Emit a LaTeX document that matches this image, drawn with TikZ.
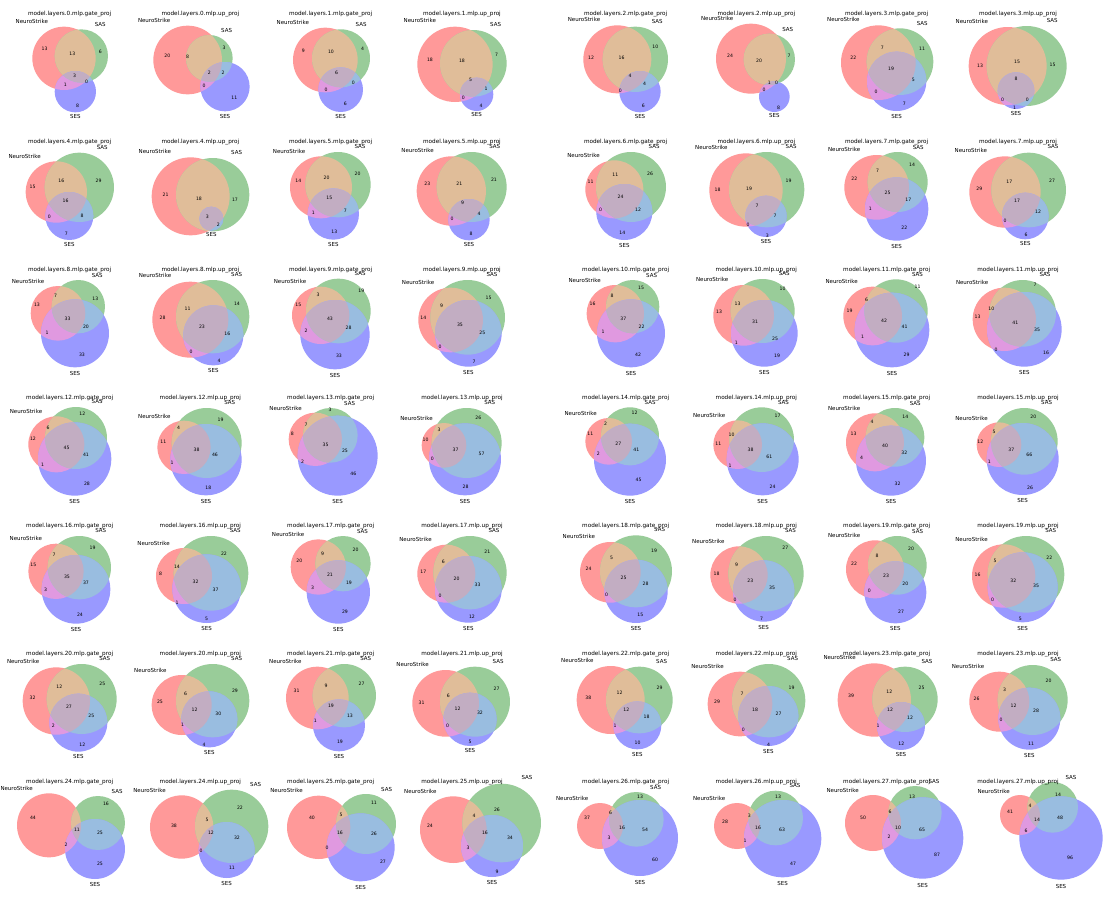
\documentclass[tikz,border=0pt]{standalone}
\usepackage{fontspec}
\setmainfont{DejaVu Sans}
\definecolor{cA}{HTML}{FF9999}
\definecolor{cB}{HTML}{99CC99}
\definecolor{cC}{HTML}{9999FF}
\definecolor{cAB}{HTML}{E0BD99}
\definecolor{cAC}{HTML}{E099E0}
\definecolor{cBC}{HTML}{99BDE0}
\definecolor{cABC}{HTML}{C2ADC2}
\newcounter{pnl}
\newcounter{lbl}
\tikzset{
  ttl/.style={font=\fontsize{5.7}{6}\selectfont, inner sep=0pt},
  setl/.style={font=\fontsize{5.5}{6}\selectfont, inner sep=0pt},
  num/.style={font=\fontsize{4.6}{5}\selectfont, inner sep=0pt},
  pan/.style={scale=1/3}
}
\newcommand\VC[9]{%
  \stepcounter{pnl}%
  \fill[cA] (#1,#2) circle (#3);
  \fill[cB] (#4,#5) circle (#6);
  \fill[cC] (#7,#8) circle (#9);
  \begin{scope}\clip (#1,#2) circle (#3);
    \fill[cAB] (#4,#5) circle (#6);
    \fill[cAC] (#7,#8) circle (#9);
  \end{scope}
  \begin{scope}\clip (#4,#5) circle (#6);
    \fill[cBC] (#7,#8) circle (#9);
  \end{scope}
  \begin{scope}\clip (#1,#2) circle (#3); \clip (#4,#5) circle (#6);
    \fill[cABC] (#7,#8) circle (#9);
  \end{scope}
  \node[setl,anchor=base east] (ns\thepnl) at ({#1-0.5*#3},{#2-1.1*#3}) {NeuroStrike};
  \node[setl,anchor=base west] (sas\thepnl) at ({#4+0.5*#6},{#5-1.1*#6}) {SAS};
  \node[setl,anchor=north] (ses\thepnl) at (#7,{#8+1.1*#9}) {SES};
}
\newcommand\TT[2]{\node[ttl] (t\thepnl) at (#1,41) {#2};}
\newcommand\NN[3]{\stepcounter{lbl}\node[num] (n\thelbl) at (#1,#2) {#3};}
\begin{document}
\begin{tikzpicture}[x=1pt,y=-1pt]
\fill[white] (0,0) rectangle (1112,900);
\useasboundingbox (0,0) rectangle (1112,900);
% ---------------- Row 1
\begin{scope}[shift={(0,0)},pan]
\VC{192}{175}{95}{244}{168}{80}{226}{275}{62}\TT{209}{model.layers.0.mlp.gate\_proj}
\NN{134}{147}{13}\NN{217}{162}{13}\NN{301}{155}{6}\NN{224}{226}{3}\NN{196}{255}{1}\NN{260}{245}{0}\NN{233}{316}{8}
\VC{563}{180}{103}{628}{175}{70}{675}{260}{74}\TT{601}{model.layers.0.mlp.up\_proj}
\NN{502}{168}{20}\NN{563}{170}{8}\NN{672}{143}{3}\NN{628}{218}{2}\NN{669}{218}{2}\NN{612}{258}{0}\NN{703}{293}{11}
\VC{976}{180}{97}{1023}{175}{87}{1022}{269}{67}\TT{992}{model.layers.1.mlp.gate\_proj}
\NN{910}{152}{9}\NN{993}{155}{10}\NN{1088}{145}{4}\NN{1010}{218}{6}\NN{978}{268}{0}\NN{1060}{248}{0}\NN{1036}{311}{6}
\VC{1365}{193}{113}{1420}{190}{100}{1430}{283}{50}\TT{1386}{model.layers.1.mlp.up\_proj}
\NN{1290}{180}{18}\NN{1386}{183}{18}\NN{1490}{163}{7}\NN{1412}{240}{5}\NN{1458}{266}{1}\NN{1390}{292}{0}\NN{1443}{318}{4}
\end{scope}
\begin{scope}[shift={(556,0)},pan]
\VC{184}{178}{102}{238}{178}{98}{252}{275}{62}\TT{209}{model.layers.2.mlp.gate\_proj}
\NN{105}{172}{12}\NN{197}{172}{16}\NN{298}{141}{10}\NN{222}{227}{4}\NN{266}{250}{4}\NN{193}{272}{0}\NN{262}{316}{6}
\VC{585}{176}{105}{640}{178}{77}{655}{290}{46}\TT{601}{model.layers.2.mlp.up\_proj}
\NN{522}{168}{24}\NN{609}{181}{20}\NN{699}{167}{7}\NN{640}{248}{1}\NN{662}{249}{0}\NN{624}{268}{0}\NN{668}{322}{8}
\VC{967}{188}{112}{1032}{185}{100}{1022}{244}{89}\TT{992}{model.layers.3.mlp.gate\_proj}
\NN{892}{172}{22}\NN{979}{143}{7}\NN{1098}{146}{11}\NN{1005}{207}{19}\NN{1072}{240}{5}\NN{960}{275}{0}\NN{1045}{312}{7}
\VC{1355}{198}{117}{1412}{198}{120}{1380}{272}{55}\TT{1386}{model.layers.3.mlp.up\_proj}
\NN{1272}{196}{13}\NN{1383}{186}{15}\NN{1490}{195}{15}\NN{1380}{235}{8}\NN{1340}{299}{0}\NN{1414}{300}{0}\NN{1376}{323}{1}
\end{scope}
% ---------------- Row 2
\begin{scope}[shift={(0,128)},pan]
\VC{169}{192}{92}{238}{178}{104}{208}{264}{72}\TT{209}{model.layers.4.mlp.gate\_proj}
\NN{98}{177}{15}\NN{184}{157}{16}\NN{296}{157}{29}\NN{197}{219}{16}\NN{148}{267}{0}\NN{246}{262}{8}\NN{199}{318}{7}
\VC{572}{205}{117}{638}{200}{110}{634}{272}{36}\TT{601}{model.layers.4.mlp.up\_proj}
\NN{497}{201}{21}\NN{597}{213}{18}\NN{705}{215}{17}\NN{622}{265}{3}\NN{655}{291}{2}
\VC{963}{178}{93}{1014}{170}{98}{1000}{258}{77}\TT{992}{model.layers.5.mlp.gate\_proj}
\NN{895}{158}{14}\NN{980}{149}{20}\NN{1073}{137}{20}\NN{988}{211}{15}\NN{940}{254}{1}\NN{1036}{248}{7}\NN{1003}{312}{13}
\VC{1354}{189}{104}{1415}{177}{105}{1407}{275}{62}\TT{1386}{model.layers.5.mlp.up\_proj}
\NN{1282}{168}{23}\NN{1378}{167}{21}\NN{1482}{155}{21}\NN{1388}{225}{9}\NN{1356}{271}{0}\NN{1437}{258}{4}\NN{1413}{318}{8}
\end{scope}
\begin{scope}[shift={(556,128)},pan]
\VC{175}{184}{87}{225}{177}{105}{205}{252}{84}\TT{209}{model.layers.6.mlp.gate\_proj}
\NN{104}{160}{11}\NN{178}{139}{11}\NN{282}{136}{26}\NN{194}{207}{24}\NN{134}{244}{0}\NN{246}{244}{12}\NN{199}{313}{14}
\VC{570}{186}{110}{632}{185}{113}{630}{265}{62}\TT{601}{model.layers.6.mlp.up\_proj}
\NN{485}{185}{18}\NN{579}{183}{19}\NN{698}{158}{19}\NN{603}{233}{7}\NN{576}{290}{0}\NN{657}{264}{7}\NN{634}{323}{3}
\VC{962}{178}{97}{1025}{162}{90}{1022}{243}{95}\TT{992}{model.layers.7.mlp.gate\_proj}
\NN{895}{153}{22}\NN{965}{129}{7}\NN{1068}{110}{14}\NN{995}{193}{25}\NN{943}{242}{1}\NN{1057}{214}{17}\NN{1045}{300}{22}
\VC{1347}{192}{107}{1418}{186}{112}{1408}{264}{70}\TT{1386}{model.layers.7.mlp.up\_proj}
\NN{1270}{181}{29}\NN{1360}{162}{17}\NN{1488}{157}{27}\NN{1383}{218}{17}\NN{1347}{279}{0}\NN{1446}{251}{12}\NN{1410}{320}{6}
\end{scope}
% ---------------- Row 3
\begin{scope}[shift={(0,256)},pan]
\VC{174}{172}{82}{235}{152}{80}{225}{232}{102}\TT{209}{model.layers.8.mlp.gate\_proj}
\NN{111}{147}{13}\NN{167}{120}{7}\NN{286}{128}{13}\NN{203}{187}{33}\NN{141}{229}{1}\NN{258}{213}{20}\NN{246}{296}{33}
\VC{571}{191}{114}{638}{182}{110}{640}{238}{90}\TT{601}{model.layers.8.mlp.up\_proj}
\NN{488}{185}{28}\NN{563}{158}{11}\NN{711}{143}{14}\NN{606}{211}{23}\NN{573}{288}{0}\NN{682}{234}{16}\NN{657}{315}{4}
\VC{962}{178}{86}{1015}{165}{97}{1005}{236}{104}\TT{992}{model.layers.9.mlp.gate\_proj}
\NN{895}{147}{15}\NN{954}{116}{3}\NN{1084}{104}{19}\NN{990}{187}{43}\NN{918}{223}{2}\NN{1046}{214}{28}\NN{1017}{298}{33}
\VC{1352}{192}{97}{1403}{184}{112}{1405}{232}{100}\TT{1386}{model.layers.9.mlp.up\_proj}
\NN{1270}{185}{14}\NN{1325}{150}{9}\NN{1466}{125}{15}\NN{1380}{205}{35}\NN{1320}{273}{0}\NN{1447}{229}{25}\NN{1422}{318}{7}
\end{scope}
\begin{scope}[shift={(556,256)},pan]
\VC{178}{173}{86}{230}{152}{80}{225}{232}{102}\TT{209}{model.layers.10.mlp.gate\_proj}
\NN{110}{143}{16}\NN{168}{118}{8}\NN{255}{97}{15}\NN{202}{187}{37}\NN{141}{228}{1}\NN{257}{213}{22}\NN{246}{296}{42}
\VC{563}{178}{91}{620}{165}{96}{625}{232}{100}\TT{601}{model.layers.10.mlp.up\_proj}
\NN{489}{168}{13}\NN{545}{143}{13}\NN{680}{97}{10}\NN{597}{198}{31}\NN{541}{261}{1}\NN{657}{249}{25}\NN{663}{298}{19}
\VC{950}{180}{88}{1020}{165}{95}{1008}{222}{112}\TT{992}{model.layers.11.mlp.gate\_proj}
\NN{881}{165}{19}\NN{932}{132}{6}\NN{1085}{92}{11}\NN{984}{193}{42}\NN{920}{241}{1}\NN{1046}{212}{41}\NN{1052}{295}{29}
\VC{1345}{190}{95}{1400}{172}{100}{1405}{220}{112}\TT{1386}{model.layers.11.mlp.up\_proj}
\NN{1265}{183}{13}\NN{1306}{158}{10}\NN{1437}{87}{7}\NN{1378}{200}{41}\NN{1320}{280}{0}\NN{1443}{221}{35}\NN{1470}{290}{16}
\end{scope}
% ---------------- Row 4
\begin{scope}[shift={(0,384)},pan]
\VC{169}{181}{84}{228}{162}{93}{224}{225}{110}\TT{209}{model.layers.12.mlp.gate\_proj}
\NN{99}{165}{12}\NN{144}{131}{6}\NN{247}{90}{12}\NN{200}{193}{45}\NN{128}{241}{1}\NN{258}{213}{41}\NN{261}{298}{28}
\VC{552}{190}{80}{620}{177}{105}{618}{227}{107}\TT{601}{model.layers.12.mlp.up\_proj}
\NN{490}{172}{11}\NN{536}{131}{4}\NN{662}{107}{19}\NN{590}{196}{38}\NN{516}{236}{1}\NN{645}{213}{46}\NN{625}{311}{18}
\VC{946}{166}{80}{991}{154}{82}{1013}{215}{120}\TT{992}{model.layers.13.mlp.gate\_proj}
\NN{877}{148}{8}\NN{918}{122}{7}\NN{990}{77}{3}\NN{977}{183}{35}\NN{908}{232}{2}\NN{1035}{199}{25}\NN{1060}{268}{46}
\VC{1332}{184}{67}{1400}{177}{105}{1395}{226}{108}\TT{1386}{model.layers.13.mlp.up\_proj}
\NN{1277}{168}{10}\NN{1317}{136}{3}\NN{1435}{102}{26}\NN{1367}{196}{37}\NN{1297}{224}{0}\NN{1445}{209}{57}\NN{1397}{308}{28}
\end{scope}
\begin{scope}[shift={(556,384)},pan]
\VC{158}{172}{70}{222}{157}{87}{222}{227}{108}\TT{209}{model.layers.14.mlp.gate\_proj}
\NN{103}{148}{11}\NN{149}{120}{2}\NN{236}{87}{12}\NN{187}{180}{27}\NN{127}{210}{2}\NN{241}{197}{41}\NN{248}{289}{45}
\VC{545}{182}{73}{617}{167}{97}{620}{226}{108}\TT{601}{model.layers.14.mlp.up\_proj}
\NN{487}{178}{11}\NN{527}{151}{10}\NN{665}{94}{17}\NN{584}{198}{38}\NN{522}{246}{1}\NN{640}{217}{61}\NN{650}{308}{24}
\VC{957}{175}{87}{1017}{160}{88}{1005}{230}{105}\TT{992}{model.layers.15.mlp.gate\_proj}
\NN{893}{148}{13}\NN{948}{114}{4}\NN{1048}{99}{14}\NN{987}{186}{40}\NN{917}{222}{4}\NN{1045}{207}{32}\NN{1025}{298}{32}
\VC{1329}{182}{67}{1405}{172}{100}{1400}{225}{108}\TT{1386}{model.layers.15.mlp.up\_proj}
\NN{1273}{173}{12}\NN{1314}{143}{5}\NN{1432}{97}{20}\NN{1366}{196}{37}\NN{1300}{234}{1}\NN{1420}{211}{66}\NN{1422}{310}{26}
\end{scope}
% ---------------- Row 5
\begin{scope}[shift={(0,512)},pan]
\VC{168}{178}{83}{238}{167}{95}{228}{232}{103}\TT{209}{model.layers.16.mlp.gate\_proj}
\NN{100}{158}{15}\NN{162}{127}{7}\NN{278}{106}{19}\NN{201}{193}{35}\NN{137}{234}{3}\NN{258}{213}{37}\NN{240}{307}{24}
\VC{552}{192}{84}{633}{184}{112}{620}{230}{103}\TT{601}{model.layers.16.mlp.up\_proj}
\NN{482}{186}{8}\NN{531}{165}{14}\NN{672}{126}{22}\NN{587}{208}{32}\NN{531}{272}{1}\NN{647}{233}{37}\NN{620}{320}{5}
\VC{955}{165}{83}{1029}{155}{83}{1015}{240}{95}\TT{992}{model.layers.17.mlp.gate\_proj}
\NN{898}{145}{20}\NN{968}{126}{9}\NN{1067}{114}{20}\NN{990}{188}{21}\NN{938}{228}{3}\NN{1047}{213}{19}\NN{1035}{298}{29}
\VC{1339}{185}{87}{1410}{182}{110}{1405}{232}{100}\TT{1386}{model.layers.17.mlp.up\_proj}
\NN{1270}{178}{17}\NN{1330}{148}{6}\NN{1462}{118}{21}\NN{1370}{200}{20}\NN{1320}{252}{0}\NN{1433}{219}{33}\NN{1416}{313}{12}
\end{scope}
\begin{scope}[shift={(556,512)},pan]
\VC{163}{181}{91}{240}{178}{108}{240}{238}{95}\TT{209}{model.layers.18.mlp.gate\_proj}
\NN{98}{170}{24}\NN{167}{138}{5}\NN{294}{117}{19}\NN{203}{197}{25}\NN{152}{248}{0}\NN{269}{215}{28}\NN{253}{310}{15}
\VC{549}{189}{86}{630}{185}{113}{623}{237}{92}\TT{601}{model.layers.18.mlp.up\_proj}
\NN{482}{185}{18}\NN{542}{158}{9}\NN{688}{107}{27}\NN{583}{207}{23}\NN{537}{264}{0}\NN{648}{227}{35}\NN{617}{320}{7}
\VC{957}{172}{87}{1024}{160}{88}{1018}{241}{93}\TT{992}{model.layers.19.mlp.gate\_proj}
\NN{894}{155}{22}\NN{963}{130}{8}\NN{1065}{110}{20}\NN{990}{192}{23}\NN{940}{237}{0}\NN{1048}{214}{20}\NN{1035}{300}{27}
\VC{1343}{192}{95}{1410}{187}{115}{1400}{226}{105}\TT{1386}{model.layers.19.mlp.up\_proj}
\NN{1265}{187}{16}\NN{1317}{148}{5}\NN{1480}{137}{22}\NN{1372}{205}{32}\NN{1310}{262}{0}\NN{1440}{221}{35}\NN{1393}{320}{5}
\end{scope}
% ---------------- Row 6
\begin{scope}[shift={(0,640)},pan]
\VC{169}{183}{101}{245}{177}{105}{235}{248}{87}\TT{209}{model.layers.20.mlp.gate\_proj}
\NN{98}{172}{32}\NN{178}{141}{12}\NN{307}{131}{25}\NN{207}{200}{27}\NN{160}{258}{2}\NN{274}{227}{25}\NN{247}{313}{12}
\VC{545}{195}{90}{638}{182}{110}{628}{238}{84}\TT{601}{model.layers.20.mlp.up\_proj}
\NN{480}{185}{25}\NN{557}{162}{6}\NN{705}{152}{29}\NN{584}{208}{12}\NN{548}{255}{1}\NN{655}{222}{30}\NN{612}{313}{4}
\VC{952}{174}{94}{1033}{167}{95}{1017}{256}{78}\TT{992}{model.layers.21.mlp.gate\_proj}
\NN{890}{153}{31}\NN{978}{137}{9}\NN{1085}{130}{27}\NN{993}{198}{19}\NN{946}{242}{1}\NN{1050}{226}{13}\NN{1020}{305}{19}
\VC{1337}{190}{100}{1425}{185}{105}{1410}{238}{80}\TT{1386}{model.layers.21.mlp.up\_proj}
\NN{1265}{187}{31}\NN{1345}{168}{6}\NN{1490}{147}{27}\NN{1373}{207}{12}\NN{1343}{258}{0}\NN{1440}{219}{32}\NN{1410}{307}{5}
\end{scope}
\begin{scope}[shift={(556,640)},pan]
\VC{164}{180}{102}{250}{180}{100}{244}{256}{72}\TT{209}{model.layers.22.mlp.gate\_proj}
\NN{97}{172}{38}\NN{191}{157}{12}\NN{311}{143}{29}\NN{211}{209}{12}\NN{177}{257}{1}\NN{272}{229}{18}\NN{245}{307}{10}
\VC{552}{192}{97}{638}{182}{110}{637}{228}{90}\TT{601}{model.layers.22.mlp.up\_proj}
\NN{483}{185}{29}\NN{558}{162}{7}\NN{707}{143}{19}\NN{597}{208}{18}\NN{562}{269}{0}\NN{668}{222}{27}\NN{638}{313}{4}
\VC{955}{180}{110}{1047}{178}{98}{1035}{258}{72}\TT{992}{model.layers.23.mlp.gate\_proj}
\NN{885}{167}{39}\NN{1000}{155}{12}\NN{1097}{143}{25}\NN{1002}{210}{12}\NN{966}{257}{1}\NN{1062}{232}{12}\NN{1036}{310}{12}
\VC{1330}{185}{90}{1430}{180}{105}{1420}{236}{93}\TT{1386}{model.layers.23.mlp.up\_proj}
\NN{1262}{175}{26}\NN{1346}{148}{3}\NN{1478}{123}{20}\NN{1373}{198}{12}\NN{1335}{240}{0}\NN{1440}{212}{28}\NN{1425}{310}{11}
\end{scope}
% ---------------- Row 7
\begin{scope}[shift={(0,768)},pan]
\VC{147}{172}{96}{294}{165}{81}{285}{243}{90}\TT{209}{model.layers.24.mlp.gate\_proj}
\NN{99}{150}{44}\NN{318}{108}{16}\NN{231}{186}{11}\NN{300}{195}{25}\NN{198}{231}{2}\NN{300}{288}{25}
\VC{545}{177}{95}{695}{175}{110}{680}{246}{84}\TT{601}{model.layers.24.mlp.up\_proj}
\NN{522}{174}{38}\NN{621}{156}{5}\NN{720}{120}{22}\NN{633}{195}{12}\NN{603}{249}{0}\NN{711}{210}{32}\NN{696}{300}{11}
\VC{956}{178}{95}{1098}{168}{90}{1082}{238}{102}\TT{992}{model.layers.25.mlp.gate\_proj}
\NN{936}{150}{40}\NN{1023}{141}{5}\NN{1122}{105}{11}\NN{1020}{195}{16}\NN{981}{240}{0}\NN{1122}{198}{26}\NN{1149}{282}{27}
\VC{1360}{185}{100}{1505}{165}{118}{1476}{234}{93}\TT{1386}{model.layers.25.mlp.up\_proj}
\NN{1290}{174}{24}\NN{1422}{144}{4}\NN{1491}{126}{26}\NN{1455}{195}{16}\NN{1404}{240}{3}\NN{1530}{210}{34}\NN{1491}{312}{9}
\end{scope}
\begin{scope}[shift={(556,768)},pan]
\VC{132}{174}{69}{241}{154}{82}{252}{210}{114}\TT{209}{model.layers.26.mlp.gate\_proj}
\NN{93}{150}{37}\NN{164}{135}{6}\NN{252}{87}{13}\NN{198}{180}{16}\NN{159}{210}{3}\NN{267}{186}{54}\NN{297}{276}{60}
\VC{543}{174}{69}{659}{150}{82}{680}{212}{116}\TT{601}{model.layers.26.mlp.up\_proj}
\NN{507}{162}{28}\NN{580}{143}{3}\NN{666}{87}{13}\NN{606}{180}{16}\NN{567}{219}{1}\NN{678}{186}{63}\NN{711}{288}{47}
\VC{951}{165}{84}{1077}{134}{80}{1100}{210}{122}\TT{992}{model.layers.27.mlp.gate\_proj}
\NN{921}{150}{50}\NN{1002}{132}{6}\NN{1068}{87}{13}\NN{1026}{180}{10}\NN{999}{207}{2}\NN{1098}{186}{65}\NN{1143}{261}{87}
\VC{1392}{141}{60}{1490}{118}{76}{1515}{210}{125}\TT{1386}{model.layers.27.mlp.up\_proj}
\NN{1362}{132}{41}\NN{1422}{114}{4}\NN{1506}{80}{14}\NN{1443}{156}{14}\NN{1410}{189}{6}\NN{1512}{150}{48}\NN{1542}{270}{96}
\end{scope}
\end{tikzpicture}
\end{document}
